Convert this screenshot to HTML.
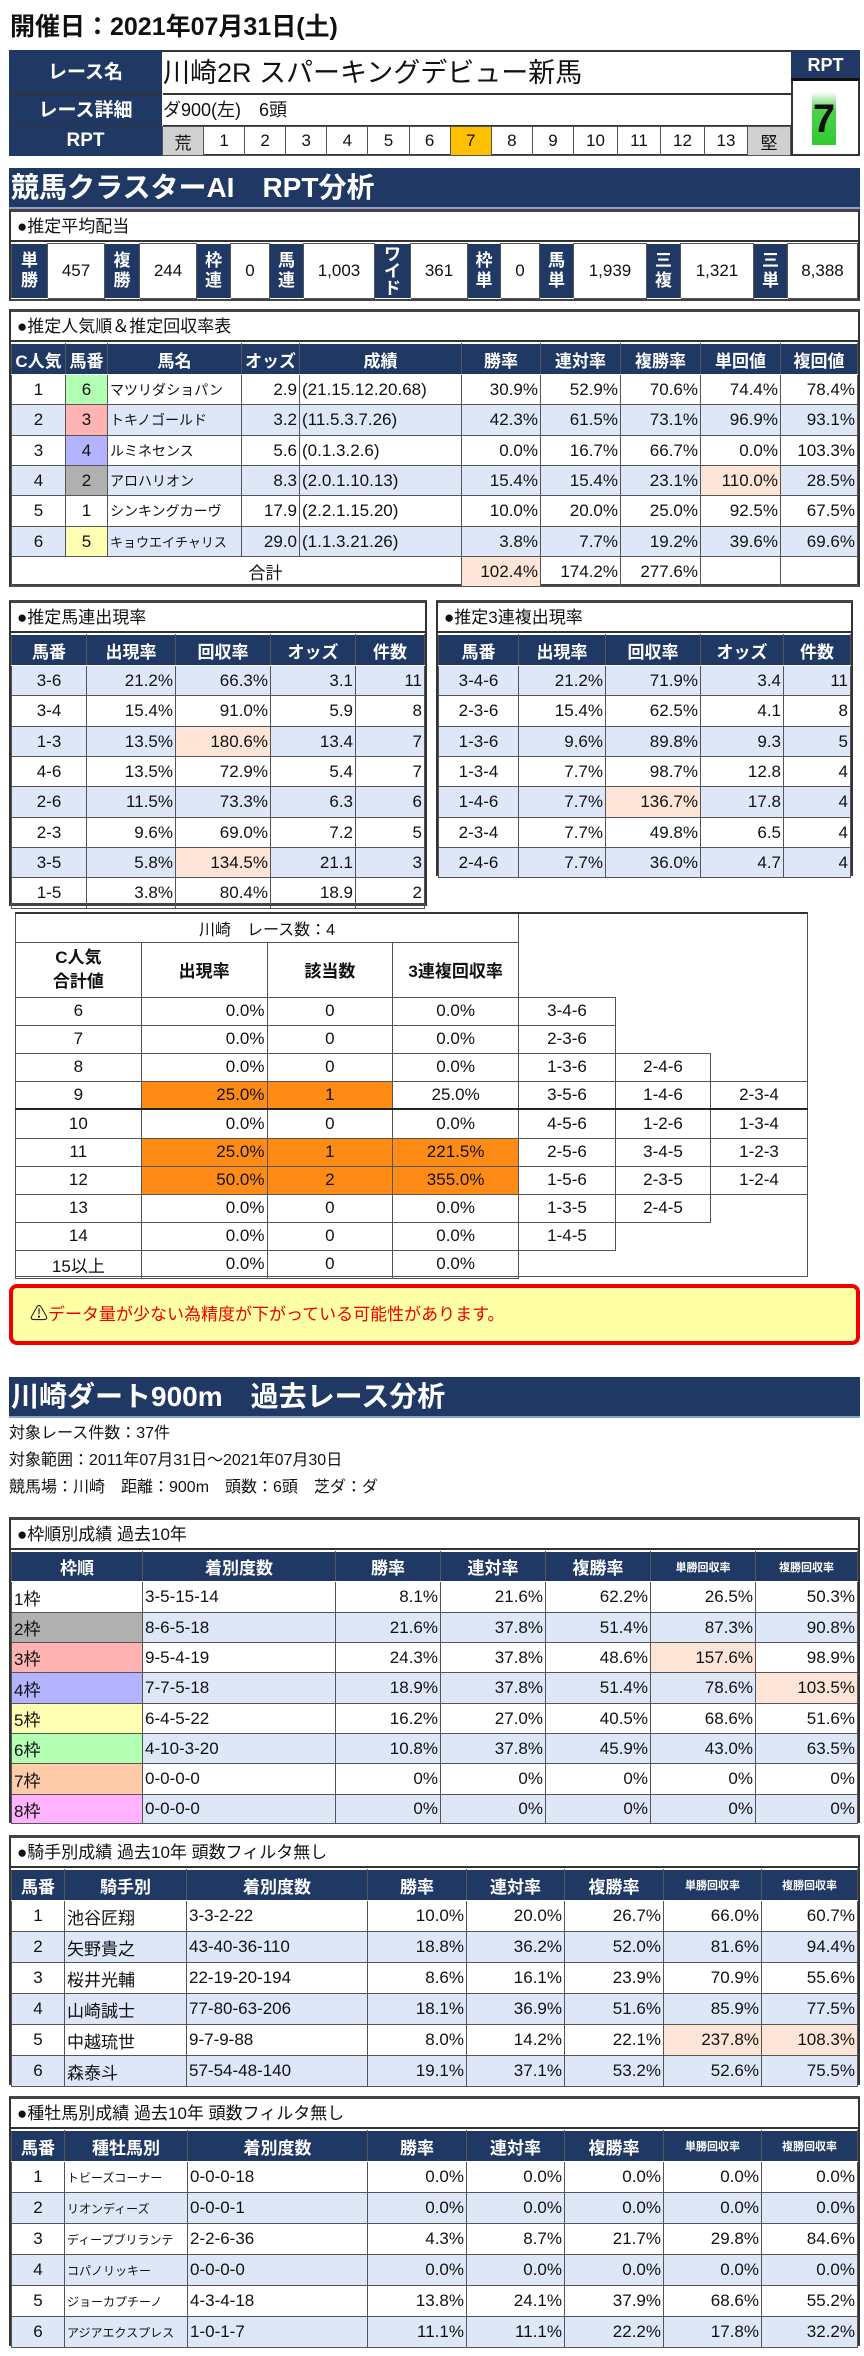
<!DOCTYPE html>
<html><head><meta charset="utf-8">
<style>
*{box-sizing:border-box;margin:0;padding:0}
body{width:864px;height:2356px;background:#fff;position:relative;font-family:"Liberation Sans Narrow","Liberation Sans","Noto Sans CJK JP",sans-serif;color:#111;overflow:hidden}
.a{position:absolute}
table{border-collapse:collapse;table-layout:fixed;position:absolute}
td,th{border:1px solid #555;font-size:17px;white-space:nowrap;overflow:hidden;padding:0 2px;font-weight:normal}
th{background:#203864;color:#fff;font-weight:bold;text-align:center;border-color:#fff #555}
.r{text-align:right}.c{text-align:center}.l{text-align:left}
.b{background:#dde7f8}.p{background:#fce4d6}.o{background:#fd8b16}
.sm{font-size:11px}
.box{position:absolute;border:2px solid #333;border-top:3px solid #444;border-bottom:3px solid #444}
.sub{height:30px;line-height:30px;font-size:17px;padding-left:6px;background:#fff;border-bottom:2px solid #333}
.hd{position:absolute;left:9px;width:851px;background:#203864;color:#fff;font-weight:bold;font-size:28px;padding-left:2px;border-bottom:2px solid #8ea0c8}
.n{border:none}
</style></head><body>

<div class="a" style="left:10px;top:12px;font-size:25px;font-weight:bold;line-height:30px">開催日：2021年07月31日(土)</div>

<!-- race table -->
<div class="a" style="left:9px;top:50px;width:851px;height:106px;border:2px solid #333"></div>
<div class="a" style="left:9px;top:50px;width:153px;height:106px;background:#203864"></div>
<div class="a" style="left:9px;top:50px;width:153px;height:45px;line-height:45px;color:#fff;font-weight:bold;font-size:19px;text-align:center;border-bottom:2px solid #333">レース名</div>
<div class="a" style="left:9px;top:95px;width:153px;height:31px;line-height:31px;color:#fff;font-weight:bold;font-size:19px;text-align:center;border-bottom:1px solid #333">レース詳細</div>
<div class="a" style="left:9px;top:126px;width:153px;height:30px;line-height:30px;color:#fff;font-weight:bold;font-size:19px;text-align:center">RPT</div>
<div class="a" style="left:163px;top:52px;width:628px;height:43px;line-height:43px;font-size:27px;border-bottom:2px solid #333">川崎2R スパーキングデビュー新馬</div>
<div class="a" style="left:163px;top:95px;width:628px;height:31px;line-height:31px;font-size:18px;border-bottom:1px solid #333">ダ900(左)　6頭</div>
<table style="left:162px;top:126px;width:629px;height:30px">
<tr style="height:29px">
<td class="c" style="width:41px;background:#d0d0d0">荒</td><td class="c">1</td><td class="c">2</td><td class="c">3</td><td class="c">4</td><td class="c">5</td><td class="c">6</td><td class="c" style="background:#ffc000">7</td><td class="c">8</td><td class="c">9</td><td class="c" style="width:44px">10</td><td class="c" style="width:43px">11</td><td class="c" style="width:44px">12</td><td class="c" style="width:43px">13</td><td class="c" style="width:43px;background:#d0d0d0">堅</td></tr></table>
<div class="a" style="left:791px;top:50px;width:69px;height:31px;background:#203864;color:#fff;font-weight:bold;font-size:18px;text-align:center;line-height:30px;border-bottom:3px solid #111">RPT</div>
<div class="a" style="left:791px;top:81px;width:69px;height:75px;border:2px solid #333;border-top:none;background:#fff"></div>
<div class="a" style="left:812px;top:92px;width:24px;height:53px;background:linear-gradient(#fff 0%,#4fd04f 35%,#2fcc2f 100%);font-size:40px;font-weight:bold;text-align:center;line-height:55px">7</div>

<div class="hd" style="top:168px;height:41px;line-height:40px">競馬クラスターAI　RPT分析</div>

<!-- payout -->
<div class="box" style="left:9px;top:209px;width:851px;height:92px">
<div class="sub">●推定平均配当</div>
<table style="left:0;top:31px;width:847px;height:56px">
<tr>
<th style="width:36px;line-height:20px">単<br>勝</th><td class="c" style="width:57px">457</td>
<th style="width:35px;line-height:20px">複<br>勝</th><td class="c" style="width:57px">244</td>
<th style="width:34px;line-height:20px">枠<br>連</th><td class="c" style="width:39px">0</td>
<th style="width:34px;line-height:20px">馬<br>連</th><td class="c" style="width:71px">1,003</td>
<th style="width:36px;line-height:17px">ワ<br>イ<br>ド</th><td class="c" style="width:57px">361</td>
<th style="width:33px;line-height:20px">枠<br>単</th><td class="c" style="width:39px">0</td>
<th style="width:34px;line-height:20px">馬<br>単</th><td class="c" style="width:73px">1,939</td>
<th style="width:34px;line-height:20px">三<br>複</th><td class="c" style="width:73px">1,321</td>
<th style="width:34px;line-height:20px">三<br>単</th><td class="c">8,388</td>
</tr></table></div>

<!-- popularity -->
<div class="box" style="left:9px;top:309px;width:851px;height:278px">
<div class="sub">●推定人気順＆推定回収率表</div>
<table style="left:0;top:31px;width:847px">
<tr style="height:31px"><th style="width:54px">C人気</th><th style="width:42px">馬番</th><th style="width:134px">馬名</th><th style="width:58px">オッズ</th><th style="width:162px">成績</th><th style="width:79px">勝率</th><th style="width:80px">連対率</th><th style="width:80px">複勝率</th><th style="width:80px">単回値</th><th>複回値</th></tr>
<tr style="height:30px"><td class="c">1</td><td class="c" style="background:#b3ffb3">6</td><td class="l" style="font-size:14px">マツリダショパン</td><td class="r">2.9</td><td class="l">(21.15.12.20.68)</td><td class="r">30.9%</td><td class="r">52.9%</td><td class="r">70.6%</td><td class="r">74.4%</td><td class="r">78.4%</td></tr>
<tr style="height:31px" class="b"><td class="c">2</td><td class="c" style="background:#ffb3b3">3</td><td class="l" style="font-size:14px">トキノゴールド</td><td class="r">3.2</td><td class="l">(11.5.3.7.26)</td><td class="r">42.3%</td><td class="r">61.5%</td><td class="r">73.1%</td><td class="r">96.9%</td><td class="r">93.1%</td></tr>
<tr style="height:30px"><td class="c">3</td><td class="c" style="background:#b3b3ff">4</td><td class="l" style="font-size:14px">ルミネセンス</td><td class="r">5.6</td><td class="l">(0.1.3.2.6)</td><td class="r">0.0%</td><td class="r">16.7%</td><td class="r">66.7%</td><td class="r">0.0%</td><td class="r">103.3%</td></tr>
<tr style="height:30px" class="b"><td class="c">4</td><td class="c" style="background:#b0b0b0">2</td><td class="l" style="font-size:14px">アロハリオン</td><td class="r">8.3</td><td class="l">(2.0.1.10.13)</td><td class="r">15.4%</td><td class="r">15.4%</td><td class="r">23.1%</td><td class="r p">110.0%</td><td class="r">28.5%</td></tr>
<tr style="height:31px"><td class="c">5</td><td class="c">1</td><td class="l" style="font-size:14px">シンキングカーヴ</td><td class="r">17.9</td><td class="l">(2.2.1.15.20)</td><td class="r">10.0%</td><td class="r">20.0%</td><td class="r">25.0%</td><td class="r">92.5%</td><td class="r">67.5%</td></tr>
<tr style="height:30px" class="b"><td class="c">6</td><td class="c" style="background:#ffffb3">5</td><td class="l" style="font-size:13px">キョウエイチャリス</td><td class="r">29.0</td><td class="l">(1.1.3.21.26)</td><td class="r">3.8%</td><td class="r">7.7%</td><td class="r">19.2%</td><td class="r">39.6%</td><td class="r">69.6%</td></tr>
<tr style="height:30px"><td colspan="5" class="c" style="padding-left:60px">合計</td><td class="r p">102.4%</td><td class="r">174.2%</td><td class="r">277.6%</td><td></td><td></td></tr>
</table></div>

<!-- 馬連 -->
<div class="box" style="left:9px;top:600px;width:418px;height:306px">
<div class="sub">●推定馬連出現率</div>
<table style="left:0;top:31px;width:414px">
<tr style="height:31px"><th style="width:75px">馬番</th><th style="width:89px">出現率</th><th style="width:95px">回収率</th><th style="width:85px">オッズ</th><th>件数</th></tr>
<tr class="b" style="height:30px"><td class="c">3-6</td><td class="r">21.2%</td><td class="r">66.3%</td><td class="r">3.1</td><td class="r">11</td></tr>
<tr style="height:31px"><td class="c">3-4</td><td class="r">15.4%</td><td class="r">91.0%</td><td class="r">5.9</td><td class="r">8</td></tr>
<tr class="b" style="height:30px"><td class="c">1-3</td><td class="r">13.5%</td><td class="r p">180.6%</td><td class="r">13.4</td><td class="r">7</td></tr>
<tr style="height:30px"><td class="c">4-6</td><td class="r">13.5%</td><td class="r">72.9%</td><td class="r">5.4</td><td class="r">7</td></tr>
<tr class="b" style="height:31px"><td class="c">2-6</td><td class="r">11.5%</td><td class="r">73.3%</td><td class="r">6.3</td><td class="r">6</td></tr>
<tr style="height:30px"><td class="c">2-3</td><td class="r">9.6%</td><td class="r">69.0%</td><td class="r">7.2</td><td class="r">5</td></tr>
<tr class="b" style="height:30px"><td class="c">3-5</td><td class="r">5.8%</td><td class="r p">134.5%</td><td class="r">21.1</td><td class="r">3</td></tr>
<tr style="height:31px"><td class="c">1-5</td><td class="r">3.8%</td><td class="r">80.4%</td><td class="r">18.9</td><td class="r">2</td></tr>
</table></div>

<!-- 3連複 -->
<div class="box" style="left:436px;top:600px;width:417px;height:276px">
<div class="sub">●推定3連複出現率</div>
<table style="left:0;top:31px;width:413px">
<tr style="height:31px"><th style="width:80px">馬番</th><th style="width:87px">出現率</th><th style="width:95px">回収率</th><th style="width:83px">オッズ</th><th>件数</th></tr>
<tr class="b" style="height:30px"><td class="c">3-4-6</td><td class="r">21.2%</td><td class="r">71.9%</td><td class="r">3.4</td><td class="r">11</td></tr>
<tr style="height:31px"><td class="c">2-3-6</td><td class="r">15.4%</td><td class="r">62.5%</td><td class="r">4.1</td><td class="r">8</td></tr>
<tr class="b" style="height:30px"><td class="c">1-3-6</td><td class="r">9.6%</td><td class="r">89.8%</td><td class="r">9.3</td><td class="r">5</td></tr>
<tr style="height:30px"><td class="c">1-3-4</td><td class="r">7.7%</td><td class="r">98.7%</td><td class="r">12.8</td><td class="r">4</td></tr>
<tr class="b" style="height:31px"><td class="c">1-4-6</td><td class="r">7.7%</td><td class="r p">136.7%</td><td class="r">17.8</td><td class="r">4</td></tr>
<tr style="height:30px"><td class="c">2-3-4</td><td class="r">7.7%</td><td class="r">49.8%</td><td class="r">6.5</td><td class="r">4</td></tr>
<tr class="b" style="height:30px"><td class="c">2-4-6</td><td class="r">7.7%</td><td class="r">36.0%</td><td class="r">4.7</td><td class="r">4</td></tr>
</table></div>

<!-- C人気合計 -->
<div class="a" style="left:15px;top:912px;width:793px;height:365px;border:1px solid #555;border-top:2px solid #333"></div>
<table style="left:15px;top:912px;width:793px">
<tr style="height:29px"><td colspan="4" class="c" style="font-size:16px;border-top:2px solid #333">川崎　レース数：4</td><td class="n" style="width:97px"></td><td class="n" style="width:95px"></td><td class="n" style="width:97px"></td></tr>
<tr style="height:55px"><td class="c" style="width:111px;font-weight:bold;line-height:24px">C人気<br>合計値</td><td class="c" style="width:111px;font-weight:bold">出現率</td><td class="c" style="width:103px;font-weight:bold">該当数</td><td class="c" style="width:179px;font-weight:bold">3連複回収率</td><td class="n"></td><td class="n"></td><td class="n"></td></tr>
<tr style="height:28px"><td class="c">6</td><td class="r">0.0%</td><td class="c">0</td><td class="c">0.0%</td><td class="c">3-4-6</td><td class="n"></td><td class="n"></td></tr>
<tr style="height:28px"><td class="c">7</td><td class="r">0.0%</td><td class="c">0</td><td class="c">0.0%</td><td class="c">2-3-6</td><td class="n"></td><td class="n"></td></tr>
<tr style="height:28px"><td class="c">8</td><td class="r">0.0%</td><td class="c">0</td><td class="c">0.0%</td><td class="c">1-3-6</td><td class="c">2-4-6</td><td class="n"></td></tr>
<tr style="height:28px"><td class="c">9</td><td class="r o">25.0%</td><td class="c o">1</td><td class="c">25.0%</td><td class="c">3-5-6</td><td class="c">1-4-6</td><td class="c">2-3-4</td></tr>
<tr style="height:29px"><td class="c" style="border-top:2px solid #222">10</td><td class="r" style="border-top:2px solid #222">0.0%</td><td class="c" style="border-top:2px solid #222">0</td><td class="c" style="border-top:2px solid #222">0.0%</td><td class="c" style="border-top:2px solid #222">4-5-6</td><td class="c" style="border-top:2px solid #222">1-2-6</td><td class="c" style="border-top:2px solid #222">1-3-4</td></tr>
<tr style="height:28px"><td class="c">11</td><td class="r o">25.0%</td><td class="c o">1</td><td class="c o">221.5%</td><td class="c">2-5-6</td><td class="c">3-4-5</td><td class="c">1-2-3</td></tr>
<tr style="height:28px"><td class="c">12</td><td class="r o">50.0%</td><td class="c o">2</td><td class="c o">355.0%</td><td class="c">1-5-6</td><td class="c">2-3-5</td><td class="c">1-2-4</td></tr>
<tr style="height:28px"><td class="c">13</td><td class="r">0.0%</td><td class="c">0</td><td class="c">0.0%</td><td class="c">1-3-5</td><td class="c">2-4-5</td><td class="n"></td></tr>
<tr style="height:28px"><td class="c">14</td><td class="r">0.0%</td><td class="c">0</td><td class="c">0.0%</td><td class="c">1-4-5</td><td class="n"></td><td class="n"></td></tr>
<tr style="height:28px"><td class="c">15以上</td><td class="r">0.0%</td><td class="c">0</td><td class="c">0.0%</td><td class="n" style="border-left:1px solid #555"></td><td class="n"></td><td class="n"></td></tr>
</table>

<!-- warning -->
<div class="a" style="left:9px;top:1284px;width:851px;height:61px;border:4px solid #e00;border-radius:8px;background:#ffffa6;font-size:17px;color:#e00;line-height:53px;padding-left:17px"><span style="color:#222;font-size:18px">⚠</span>データ量が少ない為精度が下がっている可能性があります。</div>

<div class="hd" style="top:1377px;height:41px;line-height:40px">川崎ダート900m　過去レース分析</div>
<div class="a" style="left:9px;top:1420px;font-size:16px;line-height:27px">対象レース件数：37件<br>対象範囲：2011年07月31日～2021年07月30日<br>競馬場：川崎　距離：900m　頭数：6頭　芝ダ：ダ</div>

<!-- 枠順 -->
<div class="box" style="left:9px;top:1517px;width:851px;height:306px">
<div class="sub">●枠順別成績 過去10年</div>
<table style="left:0;top:31px;width:847px">
<tr style="height:30px"><th style="width:131px">枠順</th><th style="width:193px">着別度数</th><th style="width:105px">勝率</th><th style="width:105px">連対率</th><th style="width:105px">複勝率</th><th style="width:105px" class="sm">単勝回収率</th><th class="sm">複勝回収率</th></tr>
<tr style="height:31px"><td class="l">1枠</td><td class="l">3-5-15-14</td><td class="r">8.1%</td><td class="r">21.6%</td><td class="r">62.2%</td><td class="r">26.5%</td><td class="r">50.3%</td></tr>
<tr style="height:30px" class="b"><td class="l" style="background:#b0b0b0">2枠</td><td class="l">8-6-5-18</td><td class="r">21.6%</td><td class="r">37.8%</td><td class="r">51.4%</td><td class="r">87.3%</td><td class="r">90.8%</td></tr>
<tr style="height:30px"><td class="l" style="background:#ffb3b3">3枠</td><td class="l">9-5-4-19</td><td class="r">24.3%</td><td class="r">37.8%</td><td class="r">48.6%</td><td class="r p">157.6%</td><td class="r">98.9%</td></tr>
<tr style="height:31px" class="b"><td class="l" style="background:#b3b3ff">4枠</td><td class="l">7-7-5-18</td><td class="r">18.9%</td><td class="r">37.8%</td><td class="r">51.4%</td><td class="r">78.6%</td><td class="r p">103.5%</td></tr>
<tr style="height:30px"><td class="l" style="background:#ffffb3">5枠</td><td class="l">6-4-5-22</td><td class="r">16.2%</td><td class="r">27.0%</td><td class="r">40.5%</td><td class="r">68.6%</td><td class="r">51.6%</td></tr>
<tr style="height:30px" class="b"><td class="l" style="background:#b3ffb3">6枠</td><td class="l">4-10-3-20</td><td class="r">10.8%</td><td class="r">37.8%</td><td class="r">45.9%</td><td class="r">43.0%</td><td class="r">63.5%</td></tr>
<tr style="height:31px"><td class="l" style="background:#ffccaa">7枠</td><td class="l">0-0-0-0</td><td class="r">0%</td><td class="r">0%</td><td class="r">0%</td><td class="r">0%</td><td class="r">0%</td></tr>
<tr style="height:29px" class="b"><td class="l" style="background:#ffb3ff">8枠</td><td class="l">0-0-0-0</td><td class="r">0%</td><td class="r">0%</td><td class="r">0%</td><td class="r">0%</td><td class="r">0%</td></tr>
</table></div>

<!-- 騎手 -->
<div class="box" style="left:9px;top:1835px;width:851px;height:250px">
<div class="sub">●騎手別成績 過去10年 頭数フィルタ無し</div>
<table style="left:0;top:31px;width:847px">
<tr style="height:31px"><th style="width:53px">馬番</th><th style="width:122px">騎手別</th><th style="width:181px">着別度数</th><th style="width:99px">勝率</th><th style="width:98px">連対率</th><th style="width:99px">複勝率</th><th style="width:98px" class="sm">単勝回収率</th><th class="sm">複勝回収率</th></tr>
<tr style="height:31px"><td class="c">1</td><td class="l">池谷匠翔</td><td class="l">3-3-2-22</td><td class="r">10.0%</td><td class="r">20.0%</td><td class="r">26.7%</td><td class="r">66.0%</td><td class="r">60.7%</td></tr>
<tr style="height:31px" class="b"><td class="c">2</td><td class="l">矢野貴之</td><td class="l">43-40-36-110</td><td class="r">18.8%</td><td class="r">36.2%</td><td class="r">52.0%</td><td class="r">81.6%</td><td class="r">94.4%</td></tr>
<tr style="height:31px"><td class="c">3</td><td class="l">桜井光輔</td><td class="l">22-19-20-194</td><td class="r">8.6%</td><td class="r">16.1%</td><td class="r">23.9%</td><td class="r">70.9%</td><td class="r">55.6%</td></tr>
<tr style="height:31px" class="b"><td class="c">4</td><td class="l">山崎誠士</td><td class="l">77-80-63-206</td><td class="r">18.1%</td><td class="r">36.9%</td><td class="r">51.6%</td><td class="r">85.9%</td><td class="r">77.5%</td></tr>
<tr style="height:31px"><td class="c">5</td><td class="l">中越琉世</td><td class="l">9-7-9-88</td><td class="r">8.0%</td><td class="r">14.2%</td><td class="r">22.1%</td><td class="r p">237.8%</td><td class="r p">108.3%</td></tr>
<tr style="height:31px" class="b"><td class="c">6</td><td class="l">森泰斗</td><td class="l">57-54-48-140</td><td class="r">19.1%</td><td class="r">37.1%</td><td class="r">53.2%</td><td class="r">52.6%</td><td class="r">75.5%</td></tr>
</table></div>

<!-- 種牡馬 -->
<div class="box" style="left:9px;top:2096px;width:851px;height:250px">
<div class="sub">●種牡馬別成績 過去10年 頭数フィルタ無し</div>
<table style="left:0;top:31px;width:847px">
<tr style="height:31px"><th style="width:53px">馬番</th><th style="width:123px">種牡馬別</th><th style="width:180px">着別度数</th><th style="width:99px">勝率</th><th style="width:98px">連対率</th><th style="width:99px">複勝率</th><th style="width:98px" class="sm">単勝回収率</th><th class="sm">複勝回収率</th></tr>
<tr style="height:31px"><td class="c">1</td><td class="l" style="font-size:12px">トビーズコーナー</td><td class="l">0-0-0-18</td><td class="r">0.0%</td><td class="r">0.0%</td><td class="r">0.0%</td><td class="r">0.0%</td><td class="r">0.0%</td></tr>
<tr style="height:31px" class="b"><td class="c">2</td><td class="l" style="font-size:12px">リオンディーズ</td><td class="l">0-0-0-1</td><td class="r">0.0%</td><td class="r">0.0%</td><td class="r">0.0%</td><td class="r">0.0%</td><td class="r">0.0%</td></tr>
<tr style="height:31px"><td class="c">3</td><td class="l" style="font-size:12px">ディープブリランテ</td><td class="l">2-2-6-36</td><td class="r">4.3%</td><td class="r">8.7%</td><td class="r">21.7%</td><td class="r">29.8%</td><td class="r">84.6%</td></tr>
<tr style="height:31px" class="b"><td class="c">4</td><td class="l" style="font-size:12px">コパノリッキー</td><td class="l">0-0-0-0</td><td class="r">0.0%</td><td class="r">0.0%</td><td class="r">0.0%</td><td class="r">0.0%</td><td class="r">0.0%</td></tr>
<tr style="height:31px"><td class="c">5</td><td class="l" style="font-size:12px">ジョーカプチーノ</td><td class="l">4-3-4-18</td><td class="r">13.8%</td><td class="r">24.1%</td><td class="r">37.9%</td><td class="r">68.6%</td><td class="r">55.2%</td></tr>
<tr style="height:31px" class="b"><td class="c">6</td><td class="l" style="font-size:12px">アジアエクスプレス</td><td class="l">1-0-1-7</td><td class="r">11.1%</td><td class="r">11.1%</td><td class="r">22.2%</td><td class="r">17.8%</td><td class="r">32.2%</td></tr>
</table></div>

</body></html>
